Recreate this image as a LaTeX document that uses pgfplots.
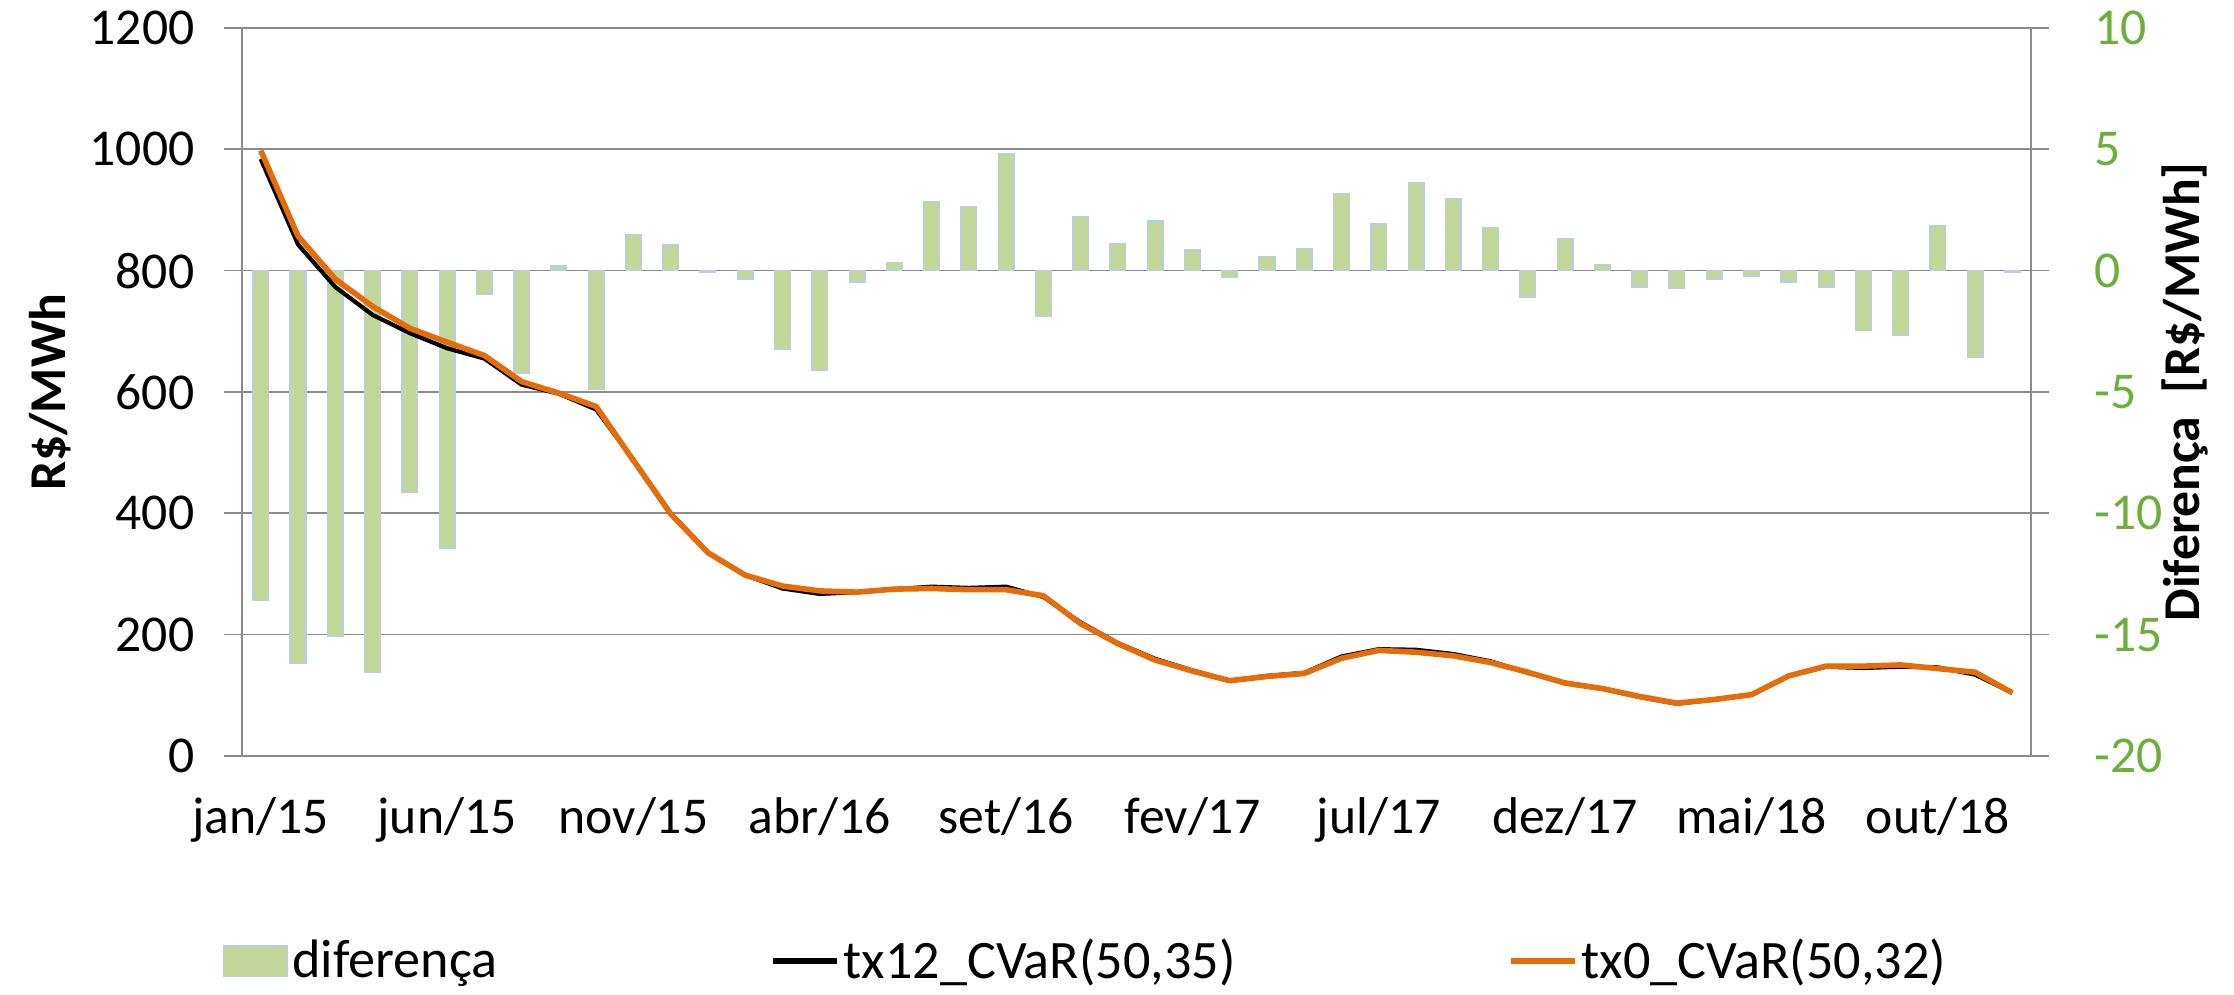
\documentclass[border=0pt]{standalone}
\usepackage{fontspec}
\setmainfont{Carlito}
\usepackage{pgfplots}
\usepackage{pgfplotstable}
\pgfplotsset{compat=1.18}
\definecolor{bargreen}{RGB}{196,215,155}
\definecolor{baredge}{RGB}{185,205,229}
\definecolor{lineorange}{RGB}{228,108,10}
\definecolor{axisgreen}{RGB}{110,175,60}
\definecolor{gridgray}{RGB}{140,140,140}

\pgfplotstableread{
x dif tx12 tx0
0.5 -13.60 984 998
1.5 -16.20 843 857
2.5 -15.07 773 786
3.5 -16.57 727 741
4.5 -9.15 697 705
5.5 -11.43 672 682
6.5 -0.98 655 660
7.5 -4.23 612 617
8.5 0.19 597 598
9.5 -4.90 571 576
10.5 1.48 488 487
11.5 1.06 400 399
12.5 -0.05 335 335
13.5 -0.35 298 298
14.5 -3.24 276 280
15.5 -4.11 267 272
16.5 -0.47 270 270
17.5 0.33 275 275
18.5 2.84 279 276
19.5 2.63 277 274
20.5 4.83 279 274
21.5 -1.88 262 264
22.5 2.23 220 218
23.5 1.11 186 185
24.5 2.04 160 158
25.5 0.85 141 140
26.5 -0.28 124 124
27.5 0.59 132 131
28.5 0.92 137 136
29.5 3.17 164 161
30.5 1.92 176 174
31.5 3.62 175 171
32.5 2.98 168 165
33.5 1.78 156 154
34.5 -1.08 137 138
35.5 1.31 121 120
36.5 0.26 111 111
37.5 -0.68 97 98
38.5 -0.75 86 87
39.5 -0.35 93 93
40.5 -0.23 101 101
41.5 -0.47 132 132
42.5 -0.68 147 148
43.5 -2.46 145 148
44.5 -2.67 147 150
45.5 1.85 146 144
46.5 -3.59 134 138
47.5 -0.05 104 104
}\datatable

\begin{document}
\begin{tikzpicture}
\useasboundingbox (-86.7pt,-85.6pt) rectangle (713.3pt,270.7pt);
\pgfplotsset{
  common/.style={
    at={(0pt,0pt)}, anchor=south west,
    scale only axis, width=640.6pt, height=260.7pt,
    xmin=0, xmax=48,
    /pgf/number format/assume math mode=true,
    /pgf/number format/1000 sep={},
    ticklabel style={font=\fontsize{18.5}{22}\selectfont, inner sep=0pt},
    label style={font=\fontsize{18.5}{22}\selectfont\bfseries},
    axis line style={gridgray, line width=0.6pt},
    major tick style={gridgray, line width=0.6pt},
    minor tick style={gridgray, line width=0.6pt},
    major tick length=6.4pt,
    minor tick length=6.4pt,
    tick align=outside,
  }
}
% bars on right axis
\begin{axis}[common,
  ymin=-20, ymax=10,
  ytick={-20,-15,-10,-5,0,5,10},
  yticklabels={-20,-15,-10,-5,0,5,10},
  axis y line*=right,
  axis x line*=bottom,
  xtick={0.5,5.5,...,45.5},
  xticklabels={jan/15,jun/15,nov/15,abr/16,set/16,fev/17,jul/17,dez/17,mai/18,out/18},
  x tick style={draw=none},
  minor xtick={0,5,...,45},
  xticklabel shift=8.5pt,
  yticklabel shift=16.2pt,
  yticklabel style={text=axisgreen, anchor=west},
  ymajorgrids,
  grid style={gridgray, line width=0.6pt},
  minor x grid style={draw=none},
  ylabel={Diferença\ \ [R\$/MWh]},
  ylabel style={at={(axis description cs:1.086,0.5)}, anchor=center},
]
\addplot[ybar, bar width=5.6pt, fill=bargreen, draw=baredge, line width=0.5pt] table[x=x, y=dif] {\datatable};
\end{axis}
% lines on left axis
\begin{axis}[common,
  ymin=0, ymax=1200,
  ytick={0,200,...,1200},
  axis y line*=left,
  axis x line=none,
  yticklabel shift=10.5pt,
  ylabel={R\$/MWh},
  ylabel style={at={(axis description cs:-0.1074,0.5)}, anchor=center},
  legend columns=3,
  legend style={at={(0.472,-0.282)}, anchor=center, draw=none, fill=none,
    font=\fontsize{19.4}{23}\selectfont,
    nodes={inner sep=1.5pt},
    /tikz/every even column/.append style={column sep=96pt}},
  legend image code/.code={\draw[#1, line width=2pt] (0pt,0pt) -- (23pt,0pt);},
]
\addlegendimage{legend image code/.code={\draw[fill=bargreen, draw=baredge, line width=0.5pt] (0pt,-5.5pt) rectangle (23pt,5.5pt);}}
\addlegendentry{diferença}
\addplot[black, line width=1.5pt, line join=round] table[x=x, y=tx12] {\datatable};
\addlegendentry{tx12\_CVaR(50,35)}
\addplot[lineorange, line width=2pt, line join=round] table[x=x, y=tx0] {\datatable};
\addlegendentry{tx0\_CVaR(50,32)}
\end{axis}
\end{tikzpicture}
\end{document}
